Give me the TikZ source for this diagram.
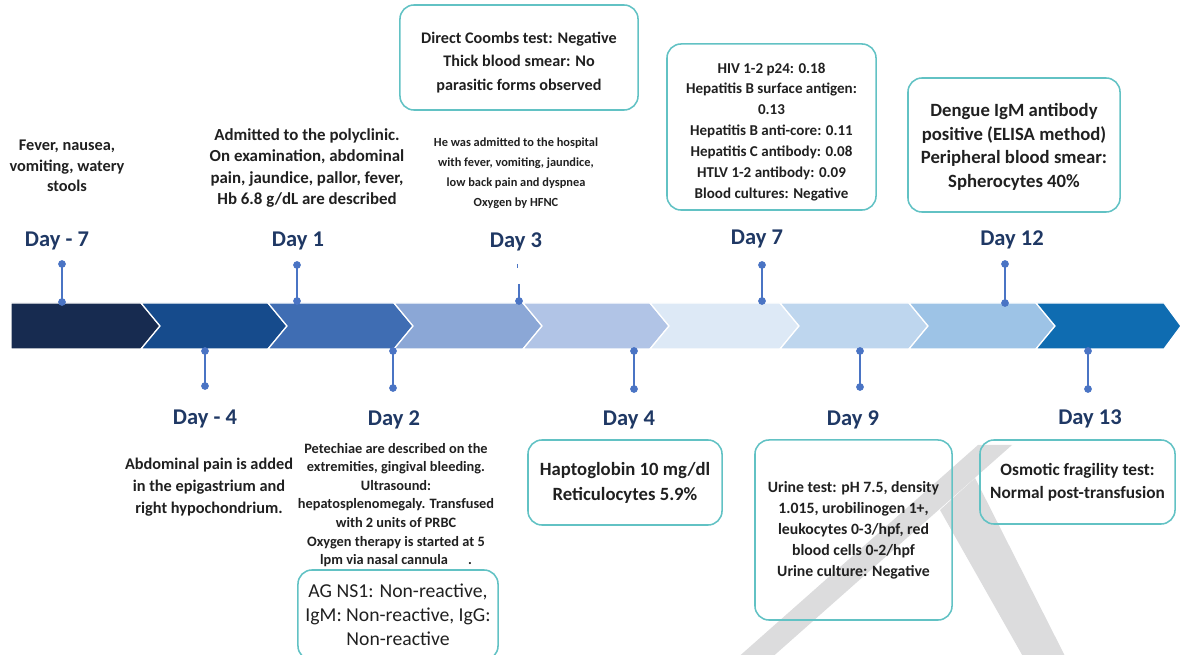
\documentclass[tikz,border=0pt]{standalone}
\usepackage{fontspec}
\setmainfont{Carlito}
\usepackage{xcolor}
\usepackage{tikz}
\usetikzlibrary{positioning}
\definecolor{segA}{HTML}{172B50}
\definecolor{segB}{HTML}{164B8C}
\definecolor{segC}{HTML}{3F6DB3}
\definecolor{segD}{HTML}{8BA7D6}
\definecolor{segE}{HTML}{B1C4E6}
\definecolor{segF}{HTML}{DDE9F6}
\definecolor{segG}{HTML}{BED6EE}
\definecolor{segH}{HTML}{9DC3E6}
\definecolor{segI}{HTML}{0F6CB1}
\definecolor{pinblue}{HTML}{4A74C4}
\definecolor{daynavy}{HTML}{1F3864}
\definecolor{boxteal}{HTML}{62C2C4}
\definecolor{inkgray}{HTML}{202020}
\definecolor{markgray}{HTML}{DCDCDD}

\begin{document}
\begin{tikzpicture}[x=0.025cm,y=-0.025cm,
    seg/.style={draw=white,line width=0.9pt},
    pin/.style={draw=pinblue,line width=1.4pt},
    dot/.style={circle,fill=pinblue,inner sep=0pt,minimum size=5.5pt},
    day/.style={text=daynavy,inner sep=0pt,font=\fontsize{16}{19}\selectfont\bfseries},
    note/.style={text=inkgray,align=center,inner sep=0pt},
    labbox/.style={draw=boxteal,line width=1.1pt,rounded corners=10pt,align=center,inner sep=0pt,text=inkgray}]

    \path[use as bounding box] (0,0) rectangle (1180,655);
    \clip (0,0) rectangle (1180,655);

    % watermark strokes
    \fill[markgray] (978,445) -- (1012,445) -- (769,660) -- (735,660) -- cycle;
    \fill[markgray] (940,510) -- (975,478) -- (1067,660) -- (1025,660) -- cycle;

    % chevron bar
    \fill[segA,seg] (11,303) -- (141,303) -- (160,326) -- (141,349) -- (11,349) -- cycle;
    \fill[segB,seg] (141,303) -- (268,303) -- (287,326) -- (268,349) -- (141,349) -- (160,326) -- cycle;
    \fill[segC,seg] (268,303) -- (394,303) -- (413,326) -- (394,349) -- (268,349) -- (287,326) -- cycle;
    \fill[segD,seg] (394,303) -- (523,303) -- (542,326) -- (523,349) -- (394,349) -- (413,326) -- cycle;
    \fill[segE,seg] (523,303) -- (650,303) -- (669,326) -- (650,349) -- (523,349) -- (542,326) -- cycle;
    \fill[segF,seg] (650,303) -- (780,303) -- (799,326) -- (780,349) -- (650,349) -- (669,326) -- cycle;
    \fill[segG,seg] (780,303) -- (909,303) -- (928,326) -- (909,349) -- (780,349) -- (799,326) -- cycle;
    \fill[segH,seg] (909,303) -- (1036,303) -- (1055,326) -- (1036,349) -- (909,349) -- (928,326) -- cycle;
    \fill[segI,seg] (1036,303) -- (1164,303) -- (1181,326) -- (1164,349) -- (1036,349) -- (1055,326) -- cycle;

    % pins above the bar
    \node[dot] (m7top) at (62,264) {};
    \node[dot] (m7bar) at (62,302) {};
    \node[dot] (d1top) at (297,265) {};
    \node[dot] (d1bar) at (297,301) {};
    \coordinate (d3top) at (519,284);
    \node[dot] (d3bar) at (519,301) {};
    \coordinate (d3tick) at (517,264);
    \coordinate (d3tickend) at (517,268);
    \node[dot] (d7top) at (762,265) {};
    \node[dot] (d7bar) at (762,301) {};
    \node[dot] (d12top) at (1005,264) {};
    \node[dot] (d12bar) at (1005,303) {};
    \draw[pin] (m7top.center) -- (m7bar.center);
    \draw[pin] (d1top.center) -- (d1bar.center);
    \draw[pin] (d3top) -- (d3bar.center);
    \draw[pinblue,line width=0.5pt] (d3tick) -- (d3tickend);
    \draw[pin] (d7top.center) -- (d7bar.center);
    \draw[pin] (d12top.center) -- (d12bar.center);

    % pins below the bar
    \node[dot] (m4bar) at (205,351) {};
    \node[dot] (m4bot) at (205,386) {};
    \node[dot] (d2bar) at (393,351) {};
    \node[dot] (d2bot) at (393,388) {};
    \node[dot] (d4bar) at (634,351) {};
    \node[dot] (d4bot) at (634,389) {};
    \node[dot] (d9bar) at (860,351) {};
    \node[dot] (d9bot) at (860,387) {};
    \node[dot] (d13bar) at (1088,351) {};
    \node[dot] (d13bot) at (1088,389) {};
    \draw[pin] (m4bar.center) -- (m4bot.center);
    \draw[pin] (d2bar.center) -- (d2bot.center);
    \draw[pin] (d4bar.center) -- (d4bot.center);
    \draw[pin] (d9bar.center) -- (d9bot.center);
    \draw[pin] (d13bar.center) -- (d13bot.center);

    % day labels
    \node[day] (m7lab) at (57,241) {Day - 7};
    \node[day] (d1lab) at (298,241) {Day 1};
    \node[day] (d3lab) at (516,242) {Day 3};
    \node[day] (d7lab) at (757,239) {Day 7};
    \node[day] (d12lab) at (1012,240) {Day 12};
    \node[day] (m4lab) at (205,419) {Day - 4};
    \node[day] (d2lab) at (394,420) {Day 2};
    \node[day] (d4lab) at (629,420) {Day 4};
    \node[day] (d9lab) at (853,420) {Day 9};
    \node[day] (d13lab) at (1090,419) {Day 13};

    % plain notes
    \node[note,font=\fontsize{11.6}{14.6}\selectfont\bfseries] (m7note) at (67,166)
        {Fever, nausea,\\vomiting, watery\\stools};
    \node[note,font=\fontsize{12}{15.3}\selectfont\bfseries] (d1note) at (307,168)
        {Admitted to the polyclinic.\\On examination, abdominal\\pain, jaundice, pallor, fever,\\Hb 6.8 g/dL are described};
    \node[note,font=\fontsize{8.8}{14.2}\selectfont\bfseries] (d3note) at (516,173)
        {He was admitted to the hospital\\with fever, vomiting, jaundice,\\low back pain and dyspnea\\Oxygen by HFNC};
    \node[note,font=\fontsize{11.6}{15.6}\selectfont\bfseries] (m4note) at (209,487)
        {Abdominal pain is added\\in the epigastrium and\\right hypochondrium.};
    \node[note,font=\fontsize{10.2}{13.2}\selectfont\bfseries] (d2note) at (396,505)
        {Petechiae are described on the\\extremities, gingival bleeding.\\Ultrasound:\\hepatosplenomegaly. Transfused\\with 2 units of PRBC\\Oxygen therapy is started at 5\\lpm via nasal cannula\hspace{1.4em}.};

    % result boxes (a strut on the first line pushes the text down where needed)
    \node[labbox,minimum width=5.95cm,minimum height=2.625cm,font=\fontsize{11.5}{16.7}\selectfont\bfseries] (d3box) at (519,57.5)
        {\rule{0pt}{15pt}Direct Coombs test: Negative\\Thick blood smear: No\\parasitic forms observed};
    \node[labbox,minimum width=5.225cm,minimum height=4.15cm,font=\fontsize{10.7}{14.8}\selectfont\bfseries] (d7box) at (771.5,127)
        {\rule{0pt}{14pt}HIV 1-2 p24: 0.18\\Hepatitis B surface antigen:\\0.13\\Hepatitis B anti-core: 0.11\\Hepatitis C antibody: 0.08\\HTLV 1-2 antibody: 0.09\\Blood cultures: Negative};
    \node[labbox,minimum width=5.3cm,minimum height=3.35cm,font=\fontsize{13.3}{16.7}\selectfont\bfseries] (d12box) at (1014,145)
        {\rule{0pt}{12pt}Dengue IgM antibody\\positive (ELISA method)\\Peripheral blood smear:\\Spherocytes 40\%};
    \node[labbox,minimum width=5cm,minimum height=2.25cm,font=\fontsize{14}{17}\selectfont] (d2box) at (398,615)
        {AG NS1: Non-reactive,\\IgM: Non-reactive, IgG:\\Non-reactive};
    \node[labbox,minimum width=4.85cm,minimum height=2.125cm,font=\fontsize{13.3}{17.8}\selectfont\bfseries] (d4box) at (625,482.5)
        {Haptoglobin 10 mg/dl\\Reticulocytes 5.9\%};
    \node[labbox,minimum width=4.925cm,minimum height=4.5cm,font=\fontsize{11.2}{15}\selectfont\bfseries] (d9box) at (853.5,530)
        {Urine test: pH 7.5, density\\1.015, urobilinogen 1+,\\leukocytes 0-3/hpf, red\\blood cells 0-2/hpf\\Urine culture: Negative};
    \node[labbox,minimum width=4.875cm,minimum height=2.1cm,font=\fontsize{12.3}{16.4}\selectfont\bfseries] (d13box) at (1077.5,482)
        {Osmotic fragility test:\\Normal post-transfusion};

\end{tikzpicture}
\end{document}
